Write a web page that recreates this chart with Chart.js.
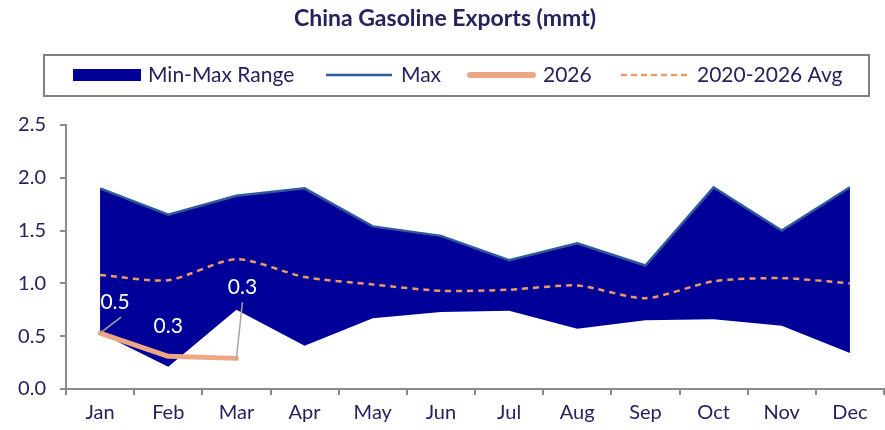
<!DOCTYPE html>
<html>
<head>
<meta charset="utf-8">
<script src="https://cdn.jsdelivr.net/npm/chart.js@4.4.1/dist/chart.umd.min.js"></script>
<style>
  html, body { margin: 0; padding: 0; background: #ffffff; }
  #wrap { width: 885px; height: 430px; position: relative; }
</style>
</head>
<body>
<div id="wrap"><canvas id="c" width="885" height="430"></canvas></div>
<script>
const months = ["Jan","Feb","Mar","Apr","May","Jun","Jul","Aug","Sep","Oct","Nov","Dec"];
const minVals = [0.53,0.21,0.75,0.41,0.67,0.73,0.74,0.57,0.65,0.66,0.60,0.34];
const maxVals = [1.90,1.65,1.83,1.90,1.54,1.45,1.22,1.38,1.17,1.91,1.50,1.91];
const avgVals = [1.08,1.03,1.23,1.06,0.99,0.93,0.94,0.98,0.86,1.02,1.05,1.00];
const y2026 = [0.53,0.31,0.29,null,null,null,null,null,null,null,null,null];
const yTicks = [0.0,0.5,1.0,1.5,2.0,2.5];
const titleText = "China Gasoline Exports (mmt)";
const legendLabels = ["Min-Max Range","Max","2026","2020-2026 Avg"];

const FONT = "Lato, 'Open Sans', sans-serif";
const TXT = "#25225c";
const AX = "#8a8a8a";
const FILL = "#000099";
const MAXC = "#2f5b9a";
const C26 = "#eda784";
const AVGC = "#ee9a66";

const decor = {
  id: 'decor',
  afterDraw(chart) {
    const ctx = chart.ctx;
    ctx.save();
    // title
    ctx.fillStyle = TXT;
    ctx.font = "bold 23px " + FONT;
    ctx.textAlign = "center";
    ctx.textBaseline = "middle";
    ctx.fillText(titleText, 445, 19);
    // legend box
    ctx.strokeStyle = "#7f7f7f";
    ctx.lineWidth = 2;
    ctx.strokeRect(44, 55, 825, 41);
    const ly = 75;
    ctx.font = "21px " + FONT;
    ctx.textAlign = "left";
    ctx.fillStyle = FILL;
    ctx.fillRect(73, 69, 68, 12);
    ctx.fillStyle = TXT;
    ctx.fillText(legendLabels[0], 148, ly);
    ctx.strokeStyle = MAXC; ctx.lineWidth = 2.5;
    ctx.beginPath(); ctx.moveTo(326, ly); ctx.lineTo(392, ly); ctx.stroke();
    ctx.fillText(legendLabels[1], 401, ly);
    ctx.strokeStyle = C26; ctx.lineWidth = 6; ctx.lineCap = "round";
    ctx.beginPath(); ctx.moveTo(470, ly); ctx.lineTo(533, ly); ctx.stroke();
    ctx.lineCap = "butt";
    ctx.fillText(legendLabels[2], 543, ly);
    ctx.strokeStyle = AVGC; ctx.lineWidth = 2.5; ctx.setLineDash([6, 4]);
    ctx.beginPath(); ctx.moveTo(621, ly); ctx.lineTo(690, ly); ctx.stroke();
    ctx.setLineDash([]);
    ctx.fillText(legendLabels[3], 697, ly);

    // data labels for 2026
    const xs = chart.scales.x, ys = chart.scales.y;
    const pts = y2026.map((v, i) => v == null ? null : { x: xs.getPixelForValue(i), y: ys.getPixelForValue(v), v });
    const offs = [ {dx: 15, dy: -31, lead: true}, {dx: 0, dy: -30, lead: false}, {dx: 6, dy: -71, lead: true} ];
    ctx.font = "21px " + FONT;
    ctx.textAlign = "center";
    ctx.textBaseline = "middle";
    pts.forEach((p, i) => {
      if (!p) return;
      const o = offs[i];
      const lx = p.x + o.dx, ly2 = p.y + o.dy;
      if (o.lead) {
        ctx.strokeStyle = "#a6a6a6"; ctx.lineWidth = 1.5;
        ctx.beginPath(); ctx.moveTo(p.x, p.y); ctx.lineTo(lx + (i === 0 ? 6 : 0), ly2 + 15); ctx.stroke();
      }
      ctx.fillStyle = "#ffffff";
      ctx.fillText(p.v.toFixed(1), lx, ly2);
    });
    ctx.restore();
  }
};

new Chart(document.getElementById('c'), {
  type: 'line',
  data: {
    labels: months,
    datasets: [
      { label: 'Min', data: minVals, borderWidth: 0, borderColor: 'rgba(0,0,0,0)', pointRadius: 0, fill: false, order: 4 },
      { label: 'Max', data: maxVals, borderColor: MAXC, borderWidth: 2.5, backgroundColor: FILL, pointRadius: 0, fill: { target: 0 }, order: 3 },
      { label: '2020-2026 Avg', data: avgVals, borderColor: AVGC, borderWidth: 2.5, borderDash: [6, 5], pointRadius: 0, fill: false, tension: 0.25, order: 2 },
      { label: '2026', data: y2026, borderColor: C26, borderWidth: 5, borderCapStyle: 'round', borderJoinStyle: 'round', pointRadius: 0, fill: false, spanGaps: false, order: 1 }
    ]
  },
  options: {
    responsive: false,
    animation: false,
    layout: { padding: { top: 125, right: 1, left: 0, bottom: 0 } },
    plugins: { legend: { display: false }, title: { display: false }, tooltip: { enabled: false } },
    scales: {
      x: {
        offset: true,
        grid: { display: true, drawOnChartArea: false, drawTicks: true, tickLength: 6, color: AX, lineWidth: 2, offset: true },
        border: { display: true, color: AX, width: 2 },
        ticks: { color: TXT, font: { family: FONT, size: 20 }, padding: 6, maxRotation: 0 },
        afterFit(s) { s.height = 41; }
      },
      y: {
        min: 0, max: 2.5,
        afterBuildTicks(s) { s.ticks = yTicks.map(v => ({ value: v })); },
        grid: { display: true, drawOnChartArea: false, drawTicks: true, tickLength: 6, color: AX, lineWidth: 2 },
        border: { display: true, color: AX, width: 2 },
        ticks: { color: TXT, font: { family: FONT, size: 20 }, padding: 14, callback: v => Number(v).toFixed(1) },
        afterFit(s) { s.width = 66; }
      }
    }
  },
  plugins: [decor]
});
</script>
</body>
</html>
